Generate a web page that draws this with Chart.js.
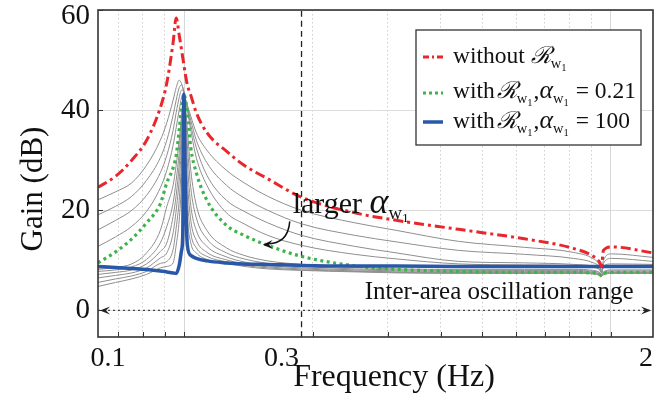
<!DOCTYPE html>
<html>
<head>
<meta charset="utf-8">
<script src="https://cdn.jsdelivr.net/npm/chart.js@4.4.1/dist/chart.umd.min.js"></script>
<style>
  html, body { margin: 0; padding: 0; background: #fff; }
  #wrap { width: 672px; height: 403px; }
</style>
</head>
<body>
<div id="wrap"><canvas id="gainChart" width="672" height="403"></canvas></div>
<script>
// --- data (frequency in Hz, gain in dB) ---
const freqHz = [0.1, 0.11, 0.12, 0.13, 0.14, 0.145, 0.15, 0.1525, 0.155, 0.157, 0.158, 0.159, 0.16, 0.162, 0.165, 0.17,
                0.18, 0.2, 0.22, 0.25, 0.3, 0.4, 0.5, 0.7, 1.0, 1.3, 1.45, 1.5, 1.515, 1.53, 1.6, 2.0];

const gainWithout = [24.6, 26.8, 30.0, 34.0, 40.5, 45.5, 53.5, 58.4, 55.0, 52.0, 50.5, 49.0, 47.5, 45.0, 43.0, 39.5,
                     35.5, 31.8, 29.0, 26.3, 22.6, 19.5, 18.0, 16.2, 14.3, 12.4, 10.8, 9.6, 8.8, 12.0, 12.7, 11.5];
const gainAlpha021 = [9.5, 11.7, 14.3, 17.5, 21.3, 25.5, 28.5, 31.0, 36.0, 40.5, 42.0, 43.2, 42.5, 39.5, 32.5, 27.5,
                      22.0, 17.0, 15.0, 13.0, 10.8, 8.9, 8.2, 7.8, 7.6, 7.6, 7.5, 7.2, 6.9, 7.3, 7.6, 7.6];
const gainAlpha100 = [8.8, 8.6, 8.4, 8.2, 7.9, 7.7, 7.5, 7.4, 9.0, 12.0, 15.0, 43.2, 28.0, 13.0, 11.0, 10.4,
                      9.9, 9.5, 9.3, 9.2, 9.0, 8.9, 8.9, 8.8, 8.8, 8.8, 8.8, 8.8, 8.8, 8.8, 8.8, 8.8];

// intermediate alpha values (thin grey curves)
const grayU1 = [22.1, 23.7, 25.5, 29.0, 34.0, 37.5, 42.0, 44.5, 46.0, 45.3, 44.5, 43.6, 42.6, 41.0, 38.8, 35.5,
                32.0, 28.0, 25.5, 22.8, 20.0, 17.5, 16.0, 13.8, 12.6, 11.6, 10.3, 9.0, 7.8, 10.0, 11.3, 10.6];
const grayU2 = [19.1, 20.8, 22.8, 26.0, 30.5, 34.0, 39.0, 42.0, 44.5, 45.0, 44.6, 43.8, 42.4, 40.6, 38.0, 34.0,
                29.5, 25.0, 22.5, 20.0, 17.3, 15.0, 13.7, 12.0, 11.2, 10.4, 9.5, 8.6, 7.6, 9.4, 10.4, 9.8];
const grayU3 = [16.1, 18.0, 20.0, 23.0, 27.5, 31.0, 36.0, 39.5, 42.5, 44.0, 44.0, 43.5, 42.2, 40.3, 37.0, 32.5,
                27.0, 22.0, 19.8, 17.5, 15.0, 12.8, 11.5, 9.8, 9.5, 9.2, 8.8, 8.2, 7.5, 8.8, 9.3, 9.2];
const grayU4 = [12.8, 14.7, 16.8, 19.8, 24.5, 28.0, 33.0, 36.5, 40.0, 42.5, 43.2, 43.3, 42.3, 40.0, 36.0, 30.5,
                25.0, 19.5, 17.3, 15.0, 13.0, 11.2, 10.3, 9.3, 9.1, 9.0, 8.6, 8.1, 7.5, 8.6, 9.0, 9.0];
const grayL1 = [8.2, 8.6, 9.3, 11.5, 16.0, 20.8, 25.0, 29.0, 34.0, 39.0, 41.5, 43.2, 41.5, 36.0, 28.0, 21.0,
                16.0, 12.5, 11.0, 9.9, 9.2, 8.6, 8.3, 8.2, 8.2, 8.2, 8.0, 7.6, 7.2, 7.7, 8.1, 8.1];
const grayL2 = [7.8, 8.1, 8.7, 10.2, 13.5, 16.8, 21.5, 26.0, 31.5, 37.5, 41.0, 43.2, 40.5, 33.0, 24.5, 18.5,
                14.3, 11.5, 10.3, 9.4, 8.8, 8.3, 8.1, 8.0, 8.0, 8.0, 7.8, 7.5, 7.1, 7.6, 7.9, 7.9];
const grayL3 = [7.2, 7.6, 8.1, 9.3, 11.8, 13.5, 18.8, 23.0, 29.0, 35.5, 40.0, 43.2, 39.0, 29.5, 21.0, 16.0,
                12.8, 10.7, 9.7, 9.0, 8.5, 8.1, 7.9, 7.8, 7.8, 7.8, 7.6, 7.3, 7.0, 7.4, 7.7, 7.7];
const grayL4 = [6.5, 7.0, 7.5, 8.5, 10.5, 11.5, 15.5, 20.0, 26.0, 33.0, 38.5, 43.2, 37.0, 26.0, 18.0, 14.0,
                11.6, 10.1, 9.3, 8.7, 8.3, 7.9, 7.7, 7.6, 7.6, 7.6, 7.5, 7.2, 6.9, 7.3, 7.6, 7.6];
const grayL5 = [5.6, 6.3, 6.9, 7.8, 9.4, 9.8, 12.2, 16.5, 22.0, 30.0, 36.5, 43.2, 35.0, 22.5, 15.5, 12.5,
                10.8, 9.7, 9.0, 8.5, 8.1, 7.8, 7.6, 7.5, 7.5, 7.5, 7.4, 7.1, 6.8, 7.2, 7.5, 7.5];
const grayL6 = [4.8, 5.6, 6.3, 7.2, 8.5, 8.8, 9.5, 13.0, 18.0, 26.0, 34.0, 43.2, 32.0, 19.0, 13.5, 11.5,
                10.2, 9.4, 8.8, 8.3, 8.0, 7.7, 7.5, 7.4, 7.4, 7.4, 7.3, 7.0, 6.8, 7.1, 7.4, 7.4];
const grayCurves = [grayU1, grayU2, grayU3, grayU4, grayL1, grayL2, grayL3, grayL4, grayL5, grayL6];

// axes
const freqMin = 0.1, freqMax = 2;
const gainMin = -5.3, gainMax = 60;
const xTickLabels = [0.1, 0.3, 2];
const xLabelShift = [10, -20, -7];   // label nudges in px, like the original figure
const gridRadPerSec = [0.7, 0.8, 0.9, 1, 2, 3, 4, 5, 6, 7, 8, 9, 10];   // grid drawn in rad/s
const majorRadPerSec = [1, 10];
const yTickValues = [0, 20, 40, 60];
const yLabelShift = [0, 0, 0, 6];    // top label kept inside the figure
const rangeMarkerHz = 0.3;

const SERIF = "'Liberation Serif', 'DejaVu Serif', serif";
const RED = '#e8262b', GREEN = '#3db34a', BLUE = '#2a58a8', GRAY = '#8e8e8e';

const toPoints = ys => freqHz.map((f, i) => ({ x: f, y: ys[i] }));
const hzOf = w => w / (2 * Math.PI);

const datasets = [
    { data: toPoints(gainWithout), borderColor: RED, borderWidth: 3, borderDash: [10, 4, 3, 4] },
    { data: toPoints(gainAlpha100), borderColor: BLUE, borderWidth: 3.5 },
    { data: toPoints(gainAlpha021), borderColor: GREEN, borderWidth: 3.2, borderDash: [3, 3.5] }
];
grayCurves.forEach(g => datasets.push({ data: toPoints(g), borderColor: GRAY, borderWidth: 1 }));
// inter-area range line at 0 dB and the 0.3 Hz marker
datasets.push({ data: [{ x: freqMin, y: 0 }, { x: freqMax, y: 0 }], borderColor: '#444', borderWidth: 1.3, borderDash: [2, 3] });
datasets.push({ data: [{ x: rangeMarkerHz, y: gainMin }, { x: rangeMarkerHz, y: gainMax }], borderColor: '#222', borderWidth: 1.3, borderDash: [6, 4] });

// --- text helpers ---
function drawRuns(ctx, x, y, runs, size) {
    let cx = x;
    runs.forEach(r => {
        const s = size * (r.s || 1);
        ctx.font = `${r.it ? 'italic ' : ''}${s}px ${SERIF}`;
        ctx.fillText(r.t, cx, y + (r.dy || 0) * size);
        cx += ctx.measureText(r.t).width + (r.gap || 0);
    });
    return cx;
}
const subW1 = [{ t: 'w', s: 0.62, dy: 0.2 }, { t: '1', s: 0.45, dy: 0.32, gap: 1 }];

function arrowHead(ctx, x, y, ang, len, half) {
    ctx.beginPath();
    ctx.moveTo(x, y);
    ctx.lineTo(x - len * Math.cos(ang) + half * Math.sin(ang), y - len * Math.sin(ang) - half * Math.cos(ang));
    ctx.lineTo(x - len * Math.cos(ang) * 0.6, y - len * Math.sin(ang) * 0.6);
    ctx.lineTo(x - len * Math.cos(ang) - half * Math.sin(ang), y - len * Math.sin(ang) + half * Math.cos(ang));
    ctx.closePath();
    ctx.fill();
}

const decorations = {
    id: 'decorations',
    afterDatasetsDraw(chart) {
        const ctx = chart.ctx, a = chart.chartArea;
        const xs = chart.scales.x, ys = chart.scales.y;
        ctx.save();

        // small inside tick marks
        ctx.strokeStyle = '#333';
        ctx.lineWidth = 1;
        gridRadPerSec.forEach(w => {
            const px = Math.round(xs.getPixelForValue(hzOf(w))) + 0.5;
            ctx.beginPath(); ctx.moveTo(px, a.bottom); ctx.lineTo(px, a.bottom - 5); ctx.stroke();
        });
        yTickValues.forEach(v => {
            const py = Math.round(ys.getPixelForValue(v)) + 0.5;
            ctx.beginPath(); ctx.moveTo(a.left, py); ctx.lineTo(a.left + 5, py); ctx.stroke();
        });

        // frame
        ctx.strokeStyle = '#333';
        ctx.lineWidth = 1.6;
        ctx.strokeRect(a.left, a.top, a.right - a.left, a.bottom - a.top);

        // tick labels (placed at the scale positions, nudged as in the source figure)
        ctx.fillStyle = '#111';
        ctx.textAlign = 'center';
        ctx.textBaseline = 'alphabetic';
        ctx.font = `28px ${SERIF}`;
        xTickLabels.forEach((v, i) => ctx.fillText(String(v), xs.getPixelForValue(v) + xLabelShift[i], a.bottom + 29));
        ctx.textAlign = 'right';
        ctx.textBaseline = 'middle';
        ctx.font = `29px ${SERIF}`;
        yTickValues.forEach((v, i) => ctx.fillText(String(v), a.left - 8, ys.getPixelForValue(v) + yLabelShift[i]));
        ctx.textBaseline = 'alphabetic';

        // arrowheads of the inter-area range
        ctx.fillStyle = '#222';
        const y0 = ys.getPixelForValue(0);
        arrowHead(ctx, xs.getPixelForValue(freqMin) + 2, y0, Math.PI, 10, 4);
        arrowHead(ctx, xs.getPixelForValue(freqMax) - 2, y0, 0, 10, 4);

        ctx.fillStyle = '#111';
        ctx.textAlign = 'right';
        ctx.font = `25px ${SERIF}`;
        ctx.fillText('Inter-area oscillation range', xs.getPixelForValue(1.8), ys.getPixelForValue(2.2));
        ctx.textAlign = 'left';

        // "larger alpha" note with curved arrow
        const tx = xs.getPixelForValue(0.286), ty = ys.getPixelForValue(19.5);
        drawRuns(ctx, tx, ty, [{ t: 'larger ' }, { t: 'α', it: true, s: 1.2 }, ...subW1], 30);
        const sx = xs.getPixelForValue(0.2815), sy = ys.getPixelForValue(17.8);
        const cx = xs.getPixelForValue(0.279), cy = ys.getPixelForValue(13.3);
        const ex = xs.getPixelForValue(0.2434), ey = ys.getPixelForValue(13.1);
        ctx.strokeStyle = '#111';
        ctx.lineWidth = 1.5;
        ctx.beginPath(); ctx.moveTo(sx, sy); ctx.quadraticCurveTo(cx, cy, ex + 4, ey - 1); ctx.stroke();
        arrowHead(ctx, ex, ey, Math.atan2(ey - cy, ex - cx), 10, 4.5);

        // axis titles
        ctx.fillStyle = '#111';
        ctx.textAlign = 'center';
        ctx.font = `32px ${SERIF}`;
        ctx.fillText('Frequency (Hz)', 394, 386);
        ctx.save();
        ctx.translate(42, 189);
        ctx.rotate(-Math.PI / 2);
        ctx.font = `31px ${SERIF}`;
        ctx.fillText('Gain (dB)', 0, 0);
        ctx.restore();
        ctx.textAlign = 'left';

        // legend box
        const lx = 416, ly = 30, lw = 225, lh = 115;
        ctx.fillStyle = '#fff';
        ctx.fillRect(lx, ly, lw, lh);
        ctx.strokeStyle = '#333';
        ctx.lineWidth = 1.3;
        ctx.strokeRect(lx, ly, lw, lh);
        const withRuns = [{ t: 'with', gap: 2 }, { t: 'ℛ', it: true }, ...subW1, { t: ',' }, { t: 'α', it: true, s: 1.1 }, ...subW1];
        const entries = [
            { y: 57, color: RED, width: 3, dash: [6, 3, 2, 3],
              runs: [{ t: 'without ' }, { t: 'ℛ', it: true }, ...subW1], base: 63 },
            { y: 93, color: GREEN, width: 3, dash: [3, 3],
              runs: withRuns.concat([{ t: ' = 0.21' }]), base: 98 },
            { y: 122, color: BLUE, width: 3.5, dash: [],
              runs: withRuns.concat([{ t: ' = 100' }]), base: 128 }
        ];
        entries.forEach(e => {
            ctx.strokeStyle = e.color;
            ctx.lineWidth = e.width;
            ctx.setLineDash(e.dash);
            ctx.beginPath(); ctx.moveTo(423, e.y); ctx.lineTo(443, e.y); ctx.stroke();
            ctx.setLineDash([]);
            ctx.fillStyle = '#111';
            drawRuns(ctx, 453, e.base, e.runs, 23.5);
        });
        ctx.restore();
    }
};

new Chart(document.getElementById('gainChart'), {
    type: 'line',
    data: { datasets },
    options: {
        responsive: false,
        animation: false,
        layout: { padding: { left: 0, right: 19, top: 10, bottom: 0 } },
        plugins: { legend: { display: false }, tooltip: { enabled: false } },
        elements: {
            point: { radius: 0 },
            line: { cubicInterpolationMode: 'monotone', fill: false }
        },
        scales: {
            x: {
                type: 'logarithmic', min: freqMin, max: freqMax,
                afterBuildTicks: s => { s.ticks = majorRadPerSec.map(w => ({ value: hzOf(w) })); },
                afterFit: s => { s.height = 66; s.paddingLeft = 0; s.paddingRight = 0; },
                grid: { drawTicks: false, lineWidth: 1, color: '#d6d6d6' },
                border: { display: false },
                ticks: { display: false }
            },
            xMinor: {
                type: 'logarithmic', position: 'bottom', min: freqMin, max: freqMax,
                afterBuildTicks: s => { s.ticks = gridRadPerSec.filter(w => !majorRadPerSec.includes(w)).map(w => ({ value: hzOf(w) })); },
                afterFit: s => { s.height = 0; s.paddingLeft = 0; s.paddingRight = 0; },
                grid: { drawTicks: false, color: '#cfcfcf', lineWidth: 1 },
                border: { display: false, dash: [1.5, 2.5] },
                ticks: { display: false }
            },
            y: {
                type: 'linear', min: gainMin, max: gainMax,
                afterBuildTicks: s => { s.ticks = yTickValues.map(v => ({ value: v })); },
                afterFit: s => { s.width = 98; s.paddingTop = 0; s.paddingBottom = 0; },
                grid: { drawTicks: false, color: '#dcdcdc', lineWidth: 1 },
                border: { display: false },
                ticks: { display: false }
            }
        }
    },
    plugins: [decorations]
});
</script>
</body>
</html>
